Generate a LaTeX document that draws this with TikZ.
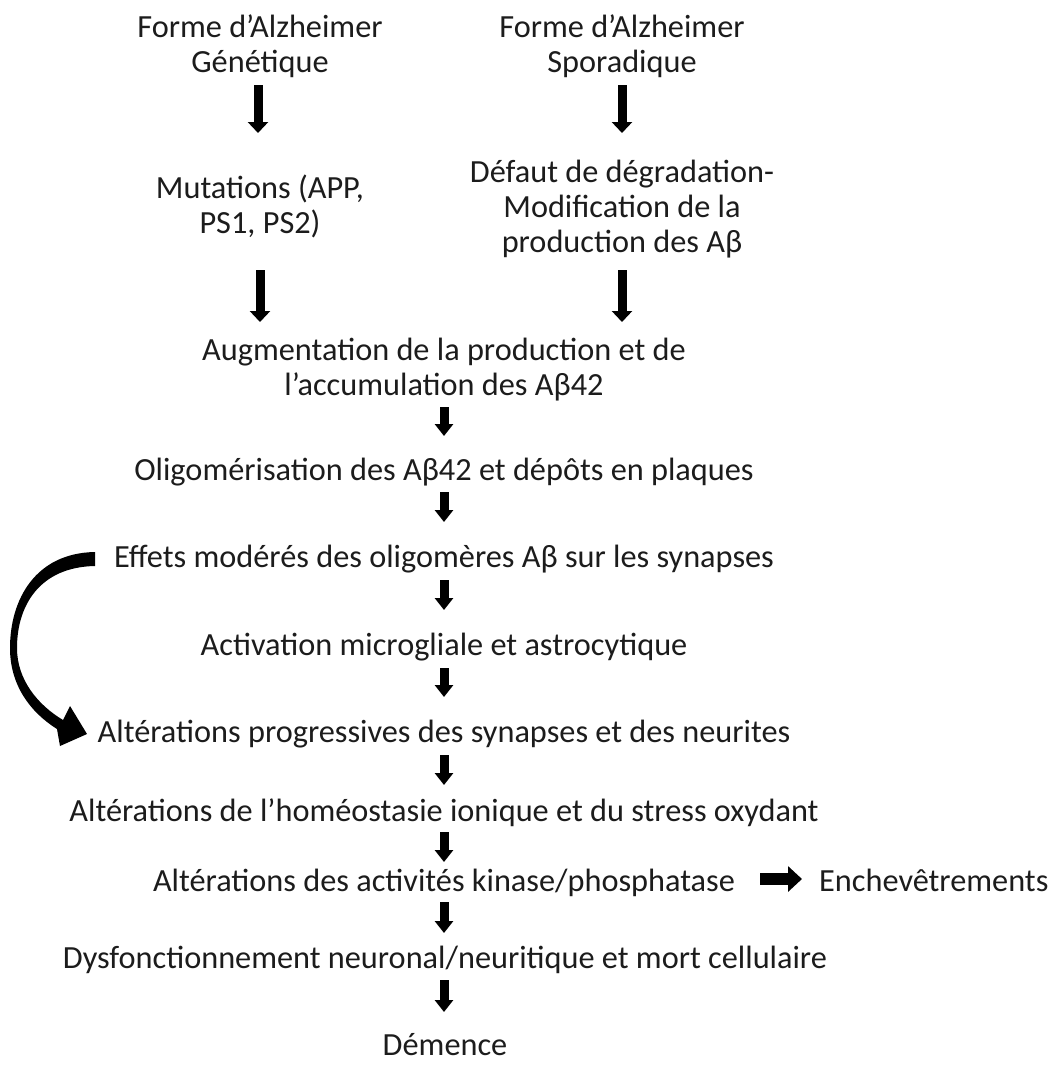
\documentclass[tikz,border=0pt]{standalone}
\usepackage{fontspec}
\setmainfont{Carlito}
\usetikzlibrary{arrows.meta,calc}
\definecolor{txt}{RGB}{28,28,28}
\tikzset{
  lbl/.style={anchor=base, inner sep=0pt, align=center, text=txt,
    font=\fontsize{32.3}{35}\selectfont},
  bigarr/.style={line width=9pt, -{Triangle[width=20pt,length=11pt]}},
  sarr/.style={line width=9pt, -{Triangle[width=18pt,length=12pt]}},
  harr/.style={line width=12pt, -{Triangle[width=25pt,length=14pt]}}
}
\begin{document}
\begin{tikzpicture}[x=1pt,y=-1pt]
\useasboundingbox (0,0) rectangle (1059,1065);
\fill[white] (0,0) rectangle (1059,1065);

% (base anchor of a multi-line node = last line's baseline)
\node[lbl] (gen) at (260,72) {Forme d’Alzheimer\\Génétique};
\node[lbl] (spo) at (622,72) {Forme d’Alzheimer\\Sporadique};
\node[lbl] (mut) at (260,233.5) {Mutations (APP,\\PS1, PS2)};
\node[lbl] (def) at (622,252) {Défaut de dégradation-\\Modification de la\\production des Aβ};
\node[lbl] (aug) at (444,395.5) {Augmentation de la production et de\\l’accumulation des Aβ42};
\node[lbl] (oli) at (444,480) {Oligomérisation des Aβ42 et dépôts en plaques};
\node[lbl] (eff) at (444,567) {Effets modérés des oligomères Aβ sur les synapses};
\node[lbl] (act) at (444,655) {Activation microgliale et astrocytique};
\node[lbl] (pro) at (444,742) {Altérations progressives des synapses et des neurites};
\node[lbl] (hom) at (444,821) {Altérations de l’homéostasie ionique et du stress oxydant};
\node[lbl] (kin) at (444,891) {Altérations des activités kinase/phosphatase};
\node[lbl, anchor=base west] (enc) at (819,891) {Enchevêtrements};
\node[lbl] (dys) at (445,968) {Dysfonctionnement neuronal/neuritique et mort cellulaire};
\node[lbl] (dem) at (445,1055) {Démence};

% big arrows
\draw[bigarr] ($(gen.base)+(-2,13)$) -- ($(gen.base |- mut.base)+(-2,-100.5)$);
\draw[bigarr] ($(spo.base)+(0,13)$) -- ($(spo.base |- def.base)+(0,-119)$);
\draw[bigarr] ($(mut.base)+(0,36.5)$) -- ($(mut.base |- aug.base)+(0,-73.5)$);
\draw[bigarr] ($(def.base)+(0,18)$) -- ($(def.base |- aug.base)+(0,-73.5)$);

% small arrows
\draw[sarr] ($(aug.base)+(0,11.5)$) -- ($(oli.base)+(0,-44)$);
\draw[sarr] ($(oli.base)+(0,12)$) -- ($(eff.base)+(0,-45)$);
\draw[sarr] ($(eff.base)+(0,13)$) -- ($(act.base)+(0,-45)$);
\draw[sarr] ($(act.base)+(0,13)$) -- ($(pro.base)+(0,-45)$);
\draw[sarr] ($(pro.base)+(0,13)$) -- ($(hom.base)+(0,-36)$);
\draw[sarr] ($(hom.base)+(0,11)$) -- ($(kin.base)+(0,-29)$);
\draw[sarr] ($(kin.base)+(0,11)$) -- ($(dys.base)+(-1,-35)$);
\draw[sarr] ($(dys.base)+(-1,12)$) -- ($(dem.base)+(-1,-43)$);

% horizontal arrow
\draw[harr] ($(kin.base)+(316,-12)$) -- ($(enc.base west)+(-17,-12)$);

% curved feedback arrow
\fill[black] (95,552) .. controls (35,553) and (10,600) .. (10,648)
  .. controls (10,685) and (30,712) .. (57,729)
  -- (60,746) -- (87,734) -- (70,706) -- (63,720)
  .. controls (38,705) and (17,680) .. (17,648)
  .. controls (17,605) and (40,567) .. (95,566) -- cycle;
\end{tikzpicture}
\end{document}
